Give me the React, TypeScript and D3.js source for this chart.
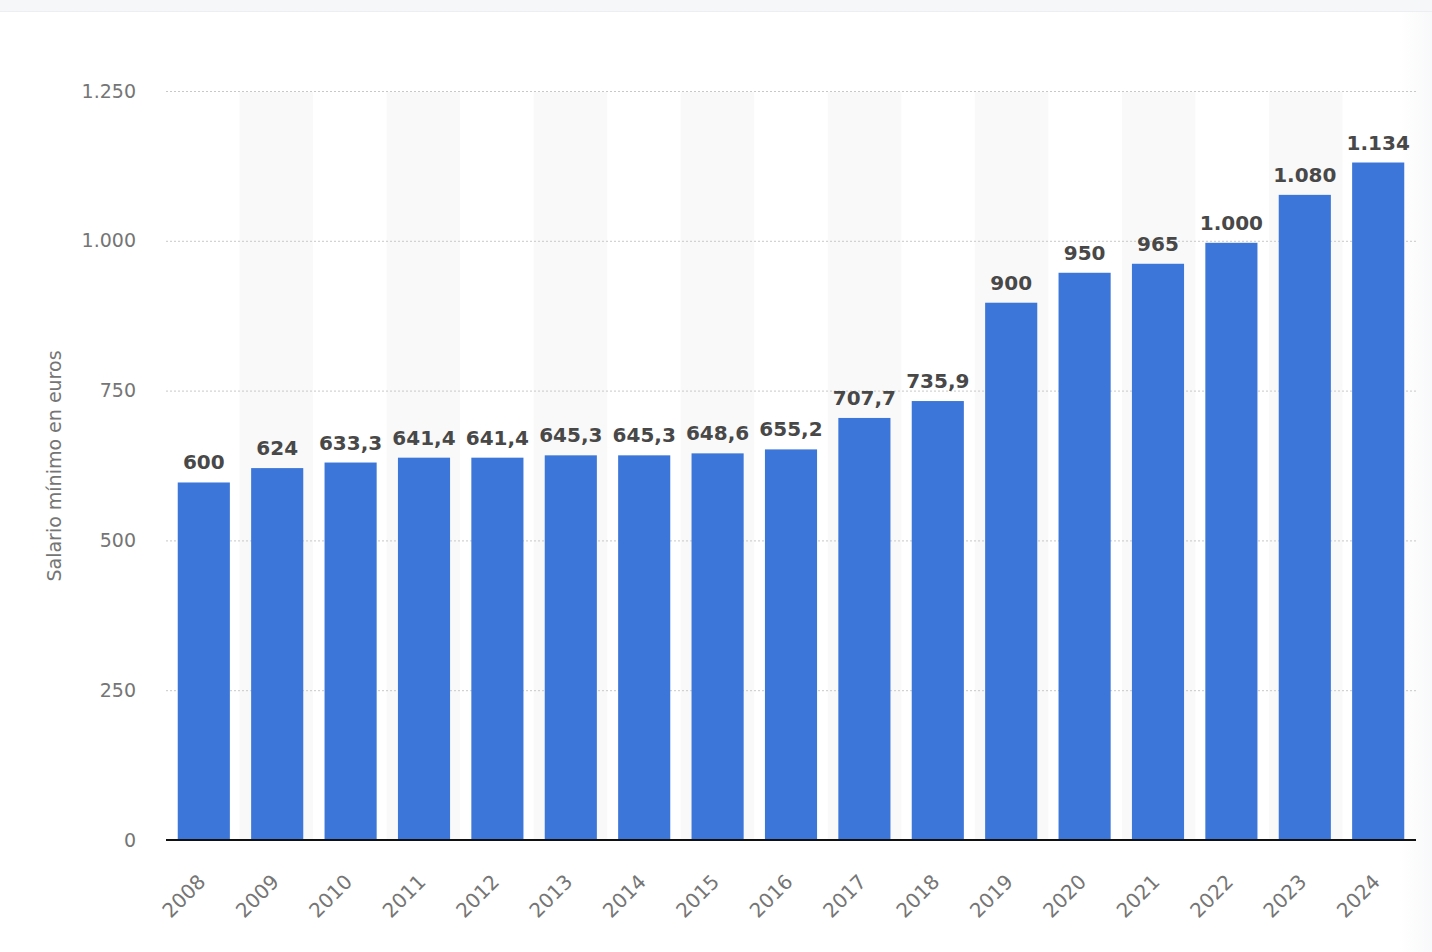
import { useRef, useEffect } from 'react'
import * as d3 from 'd3'

const years = ['2008', '2009', '2010', '2011', '2012', '2013', '2014', '2015', '2016',
  '2017', '2018', '2019', '2020', '2021', '2022', '2023', '2024']
const salary = [600, 624, 633.3, 641.4, 641.4, 645.3, 645.3, 648.6, 655.2,
  707.7, 735.9, 900, 950, 965, 1000, 1080, 1134]
const yTicks = [0, 250, 500, 750, 1000, 1250]
const yTitle = 'Salario mínimo en euros'

const esLocale = d3.formatLocale({
  decimal: ',',
  thousands: '.',
  grouping: [3],
  currency: ['', ' €'],
})
const fmtTick = esLocale.format(',d')
const fmtValue = (v: number) => (Number.isInteger(v) ? esLocale.format(',d')(v) : esLocale.format(',.1f')(v))

const FONT = "'DejaVu Sans', Verdana, sans-serif"

export default function App() {
  const svgRef = useRef<SVGSVGElement>(null)
  const width = 1432
  const height = 952

  useEffect(() => {
    document.body.style.margin = '0'
    if (!svgRef.current) return

    const svg = d3.select(svgRef.current)
    svg.selectAll('*').remove()

    const margin = { top: 91, right: 16, bottom: 112, left: 166 }
    const w = width - margin.left - margin.right
    const h = height - margin.top - margin.bottom

    svg.attr('width', width).attr('height', height)

    // page background, faint right edge + top strip
    svg.append('rect').attr('width', width).attr('height', height).attr('fill', '#fff')
    const defs = svg.append('defs')
    const grad = defs.append('linearGradient').attr('id', 'edge').attr('x1', 0).attr('x2', 1)
    grad.append('stop').attr('offset', 0).attr('stop-color', '#f5f6f8').attr('stop-opacity', 0)
    grad.append('stop').attr('offset', 1).attr('stop-color', '#f5f6f8').attr('stop-opacity', 0.7)
    svg.append('rect').attr('x', 1400).attr('y', 12).attr('width', 32).attr('height', height - 12)
      .attr('fill', 'url(#edge)')
    svg.append('rect').attr('width', width).attr('height', 11).attr('fill', '#f6f7f9')
    svg.append('line')
      .attr('x1', 0).attr('x2', width).attr('y1', 11.5).attr('y2', 11.5)
      .attr('stroke', '#eceef1')

    const g = svg.append('g').attr('transform', `translate(${margin.left},${margin.top})`)

    const x = d3.scaleBand<string>().domain(years).range([0, w]).paddingInner(0.29).paddingOuter(0.16)
    const band = d3.scaleBand<string>().domain(years).range([0, w]).padding(0)

    const y = d3.scaleLinear().domain([0, 1250]).range([h, 0])

    // alternating column shading
    g.selectAll('.shade')
      .data(years.filter((_, i) => i % 2 === 1))
      .join('rect')
      .attr('class', 'shade')
      .attr('x', d => band(d)!)
      .attr('width', band.bandwidth())
      .attr('y', 1)
      .attr('height', h - 1)
      .attr('fill', '#f9f9f9')

    // gridlines
    g.append('g')
      .call(d3.axisLeft(y).tickValues(yTicks).tickSize(-w).tickFormat(() => ''))
      .call(a => a.select('.domain').remove())
      .call(a => a.selectAll('.tick line')
        .attr('stroke', '#c8c8c8')
        .attr('stroke-dasharray', '2,2'))

    // y labels
    g.append('g')
      .call(d3.axisLeft(y).tickValues(yTicks).tickSize(0).tickPadding(30).tickFormat(d => fmtTick(d as number)))
      .call(a => a.select('.domain').remove())
      .selectAll('text')
      .attr('fill', '#757575')
      .attr('font-size', '19px')
      .attr('font-family', FONT)

    // bars
    g.selectAll('.bar')
      .data(salary)
      .join('rect')
      .attr('class', 'bar')
      .attr('x', (_, i) => x(years[i])!)
      .attr('width', x.bandwidth())
      .attr('y', d => y(d) + 2)
      .attr('height', d => h - y(d) - 2)
      .attr('fill', '#3b76d8')

    // value labels
    g.selectAll('.value')
      .data(salary)
      .join('text')
      .attr('class', 'value')
      .attr('x', (_, i) => x(years[i])! + x.bandwidth() / 2)
      .attr('y', d => y(d) - 11)
      .attr('text-anchor', 'middle')
      .attr('fill', '#484848')
      .attr('font-size', '20px')
      .attr('font-weight', 'bold')
      .attr('font-family', FONT)
      .text(d => fmtValue(d))

    // baseline
    g.append('line')
      .attr('x1', 0).attr('x2', w)
      .attr('y1', h).attr('y2', h)
      .attr('stroke', '#111')
      .attr('stroke-width', 2)

    // x labels
    g.append('g')
      .attr('transform', `translate(0,${h})`)
      .call(d3.axisBottom(x).tickSize(0).tickPadding(0))
      .call(a => a.select('.domain').remove())
      .selectAll('text')
      .attr('fill', '#757575')
      .attr('font-size', '20px')
      .attr('font-family', FONT)
      .attr('text-anchor', 'end')
      .attr('dy', 0)
      .attr('transform', 'translate(3,43) rotate(-45)')

    // y title
    svg.append('text')
      .attr('transform', 'translate(61,466) rotate(-90)')
      .attr('text-anchor', 'middle')
      .attr('fill', '#757575')
      .attr('font-size', '19px')
      .attr('font-family', FONT)
      .text(yTitle)
  }, [])

  return <svg ref={svgRef} style={{ display: 'block' }} />
}
